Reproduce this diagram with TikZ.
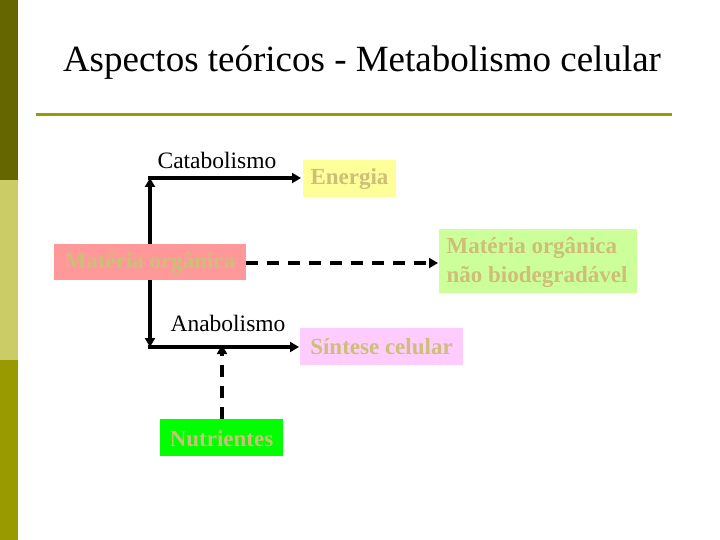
\documentclass[tikz,border=0pt]{standalone}
\usepackage{fontspec}
\setmainfont{Liberation Serif}
\usetikzlibrary{arrows.meta}
\definecolor{barA}{HTML}{666600}
\definecolor{barB}{HTML}{CCCC66}
\definecolor{barC}{HTML}{999900}
\definecolor{boxtxt}{RGB}{205,190,120}
\definecolor{yel}{HTML}{FFFF99}
\definecolor{salmon}{HTML}{FF9999}
\definecolor{lgreen}{HTML}{CCFF99}
\definecolor{lpink}{HTML}{FFCCFF}
\definecolor{vgreen}{HTML}{00FF00}
\tikzset{
  box/.style={inner sep=0pt, font=\fontsize{23}{29}\selectfont\bfseries, text=boxtxt, align=left},
  lbl/.style={inner sep=0pt, font=\fontsize{23.5}{28}\selectfont, text=black},
  conn/.style={line width=4pt, -{Triangle[length=9pt,width=10pt]}},
  dconn/.style={line width=4pt, dash pattern=on 12pt off 9pt, -{Triangle[length=9pt,width=10pt]}},
}
\begin{document}
\begin{tikzpicture}[x=1pt,y=-1pt]
\useasboundingbox (0,0) rectangle (720,540);
\fill[white] (0,0) rectangle (720,540);
\fill[barA] (0,0) rectangle (18,180);
\fill[barB] (0,180) rectangle (18,360);
\fill[barC] (0,360) rectangle (18,540);
\node[inner sep=0pt, font=\fontsize{37}{44}\selectfont] (title) at (362,63) {Aspectos teóricos - Metabolismo celular};
\draw[barC, line width=3pt] (36,115) -- (672,115);
% boxes
\fill[yel] (303,160) rectangle (396,197);
\node[box] (en) at (349.5,179) {Energia};
\fill[salmon] (54,244) rectangle (246,280);
\node[box] (mo) at (150,263) {Matéria orgânica};
\fill[lgreen] (439,229) rectangle (637,293);
\node[box, align=left] (mnb) at (537,262) {Matéria orgânica\\não biodegradável};
\fill[lpink] (300,328) rectangle (463,365);
\node[box] (sc) at (381.5,347) {Síntese celular};
\fill[vgreen] (160,419) rectangle (283,456);
\node[box] (nu) at (221.5,439) {Nutrientes};
% labels
\node[lbl] (cat) at (217,160) {Catabolismo};
\node[lbl] (ana) at (228,323) {Anabolismo};
% coordinates
\coordinate (c1) at (150,178);
\coordinate (c2) at (150,347);
\coordinate (c3) at (222,347);
\coordinate (moT) at (150,244);
\coordinate (moB) at (150,280);
\coordinate (moR) at (246,263);
\coordinate (enL) at (301,178);
\coordinate (scL) at (299,347);
\coordinate (mnbL) at (438,263);
\coordinate (nuT) at (222,419);
\draw[conn] (moT) -- (c1);
\draw[conn] ([xshift=-2pt]c1) -- (enL);
\draw[conn] (moB) -- (c2);
\draw[conn] ([xshift=-2pt]c2) -- (scL);
\draw[dconn] (moR) -- (mnbL);
\draw[dconn] (nuT) -- ([yshift=2pt]c3);
\end{tikzpicture}
\end{document}
